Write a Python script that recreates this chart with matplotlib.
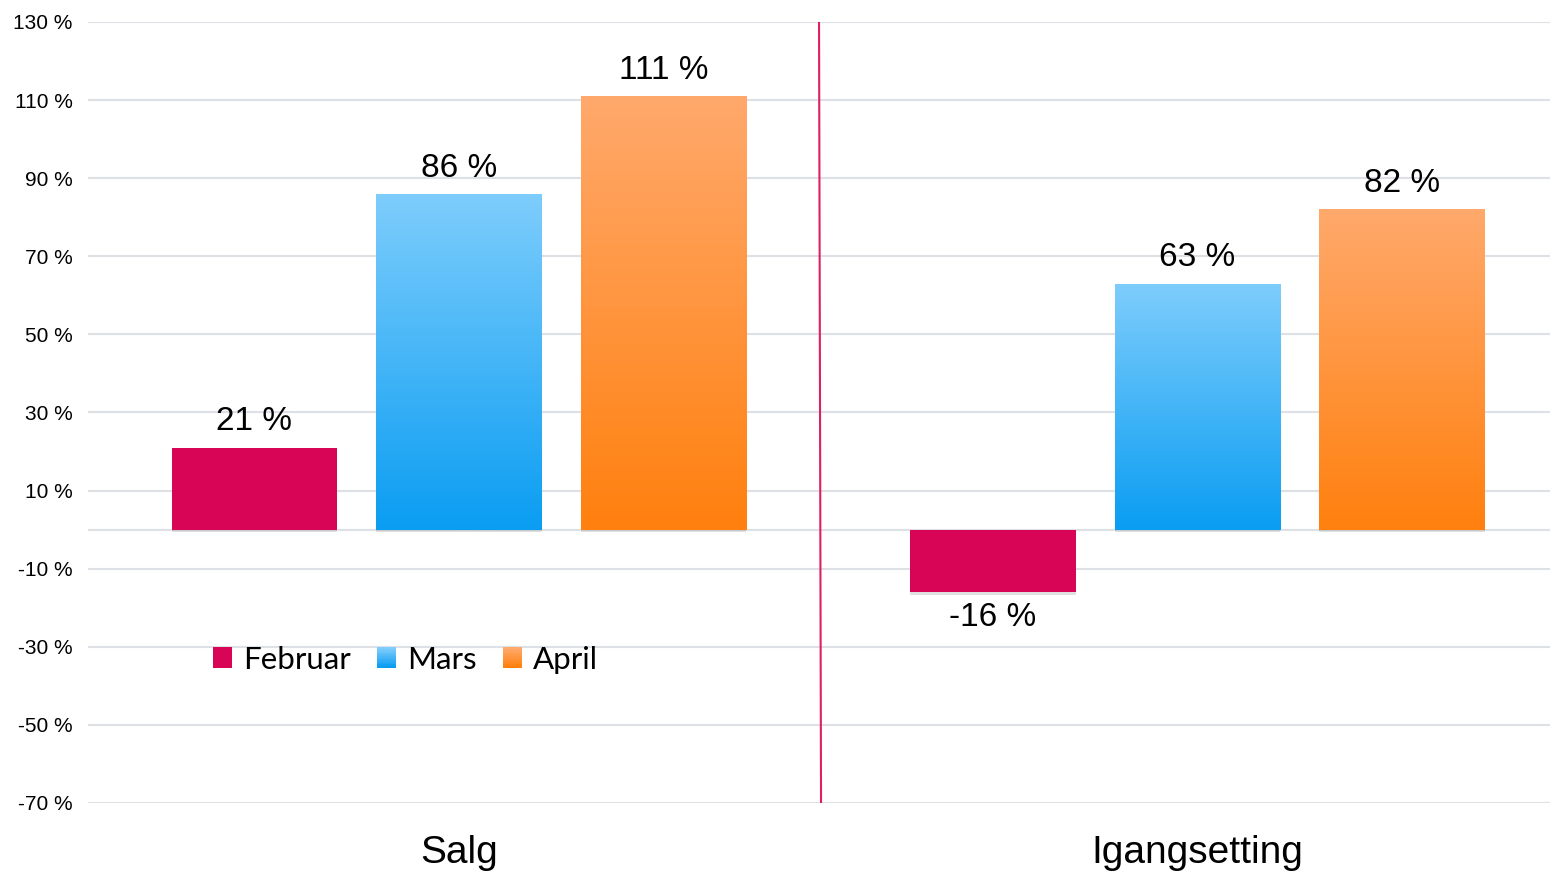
import numpy as np
import matplotlib
matplotlib.use("Agg")
import matplotlib.pyplot as plt
import matplotlib.patheffects as pe
from matplotlib.colors import LinearSegmentedColormap
from matplotlib.patches import Patch, Rectangle
from matplotlib.legend_handler import HandlerBase

# data
categories = ["Salg", "Igangsetting"]
series = ["Februar", "Mars", "April"]
februar = [21, -16]
mars = [86, 63]
april = [111, 82]
yticks = [130, 110, 90, 70, 50, 30, 10, -10, -30, -50, -70]

plt.rcParams["font.family"] = ["Liberation Sans", "DejaVu Sans"]

fig = plt.figure(figsize=(15.5, 8.71), dpi=100)
ax = fig.add_axes([88 / 1550, 68 / 871, 1462 / 1550, 781 / 871])

x = np.arange(len(categories))
offsets = [-0.277, 0.0, 0.277]
width = 0.224

# (top colour, bottom colour) for each series
colours = [("#d80456", "#d80456"), ("#7ecdfc", "#0a9df2"), ("#ffa96c", "#ff800e")]
shadow = [pe.SimplePatchShadow(offset=(0, -2), shadow_rgbFace="#999999", alpha=0.3), pe.Normal()]

for vals, off, (top, bot) in zip([februar, mars, april], offsets, colours):
    bars = ax.bar(x + off, vals, width, color=bot, zorder=3, path_effects=shadow)
    if top != bot:
        cmap = LinearSegmentedColormap.from_list("g", [bot, top])
        for b, v in zip(bars, vals):
            x0 = b.get_x()
            grad = np.linspace(0, 1, 256).reshape(-1, 1)
            im = ax.imshow(grad, cmap=cmap, aspect="auto", origin="lower",
                           extent=[x0, x0 + b.get_width(), 0, v], zorder=4)
            im.set_clip_path(b)
    for b, v in zip(bars, vals):
        cx = b.get_x() + b.get_width() / 2
        if v >= 0:
            ax.text(cx, v + 6.6, f"{v} %", ha="center", va="center", fontsize=24, zorder=5)
        else:
            ax.text(cx, v - 6.6, f"{v} %", ha="center", va="center", fontsize=24, zorder=5)

ax.set_xlim(-0.5024, 1.4773)
ax.set_ylim(-70, 130)
ax.set_yticks(yticks)
ax.set_yticklabels([f"{t} %" for t in yticks], fontsize=15)
ax.set_xticks(x)
ax.set_xticklabels(categories, fontsize=28)
ax.tick_params(axis="both", length=0)
ax.tick_params(axis="y", pad=11)
ax.tick_params(axis="x", pad=23)
for s in ax.spines.values():
    s.set_visible(False)
ax.grid(axis="y", color="#dde1e6", lw=1.5, zorder=0)
ax.axhline(0, color="#dde1e6", lw=1.5, zorder=0)
ax.set_axisbelow(True)

# divider between categories
ax.plot([0.4875, 0.4902], [130, -70], color="#e01e64", lw=1.5, zorder=2)


class GradientHandler(HandlerBase):
    def create_artists(self, legend, orig, xd, yd, w, h, fontsize, trans):
        top, bot = orig.colours
        cmap = LinearSegmentedColormap.from_list("g", [bot, top])
        n = 12
        arts = []
        for i in range(n):
            r = Rectangle((-xd, -yd + h * i / n), w, h / n + 0.3, facecolor=cmap(i / (n - 1)),
                          edgecolor="none", transform=trans)
            arts.append(r)
        return arts


handles = []
for c in colours:
    p = Patch()
    p.colours = c
    handles.append(p)
ax.legend(handles, series, loc="center left", bbox_to_anchor=(0.0855, 0.1835), ncol=3, frameon=False,
          prop={"family": "Lato", "size": 22.5}, handlelength=0.6, handleheight=0.6,
          handletextpad=0.35, columnspacing=0.85, borderpad=0, borderaxespad=0,
          handler_map={Patch: GradientHandler()})

fig.savefig("out.png", dpi=100)
